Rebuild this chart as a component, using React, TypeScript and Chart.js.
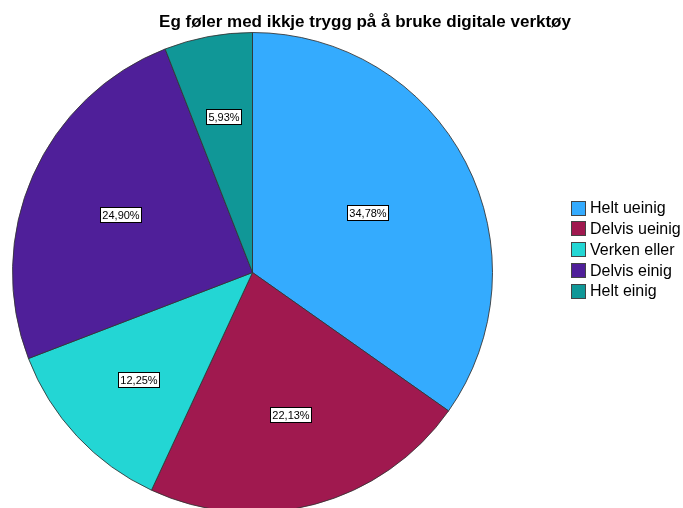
import React, { useEffect, useRef } from "react";
import { Chart, registerables } from "chart.js";

Chart.register(...registerables);

const titleText = "Eg føler med ikkje trygg på å bruke digitale verktøy";
const categories = ["Helt ueinig", "Delvis ueinig", "Verken eller", "Delvis einig", "Helt einig"];
const percentages = [34.78, 22.13, 12.25, 24.9, 5.93];
const colors = ["#34abfe", "#a0194f", "#23d6d4", "#4f1f99", "#109797"];

const fmt = (v: number) => v.toFixed(2).replace(".", ",") + "%";

const overlayPlugin = {
  id: "overlay",
  afterDatasetsDraw(chart: any) {
    const ctx = chart.ctx as CanvasRenderingContext2D;
    const meta = chart.getDatasetMeta(0);
    ctx.save();
    ctx.font = "11px 'Liberation Sans', Arial, sans-serif";
    ctx.textAlign = "center";
    ctx.textBaseline = "middle";
    meta.data.forEach((arc: any, i: number) => {
      const p = arc.getProps(["x", "y", "startAngle", "endAngle", "outerRadius"], true);
      const theta = p.endAngle - p.startAngle;
      const half = theta / 2;
      const mid = p.startAngle + half;
      const d = ((2 * p.outerRadius) / 3) * (Math.sin(half) / half);
      const cx = p.x + Math.cos(mid) * d;
      const cy = p.y + Math.sin(mid) * d;
      const txt = fmt(percentages[i]);
      const w = Math.round(ctx.measureText(txt).width) + 4;
      const h = 15;
      const bx = Math.round(cx - w / 2) + 0.5;
      const by = Math.round(cy - h / 2) + 0.5;
      ctx.fillStyle = "#ffffff";
      ctx.fillRect(bx, by, w, h);
      ctx.strokeStyle = "#000000";
      ctx.lineWidth = 1;
      ctx.strokeRect(bx, by, w, h);
      ctx.fillStyle = "#000000";
      ctx.fillText(txt, bx + w / 2, by + h / 2 + 0.5);
    });
    ctx.restore();
  },
  afterDraw(chart: any) {
    const ctx = chart.ctx as CanvasRenderingContext2D;
    ctx.save();
    ctx.font = "bold 17px 'Liberation Sans', Arial, sans-serif";
    ctx.fillStyle = "#000000";
    ctx.textAlign = "center";
    ctx.textBaseline = "alphabetic";
    ctx.fillText(titleText, 365, 27);
    ctx.font = "16px 'Liberation Sans', Arial, sans-serif";
    ctx.textAlign = "left";
    ctx.textBaseline = "middle";
    categories.forEach((c, i) => {
      const cy = 208 + i * 20.75;
      const bx = 571.5;
      const by = Math.round(cy - 7.5) + 0.5;
      ctx.fillStyle = colors[i];
      ctx.fillRect(bx, by, 14, 14);
      ctx.strokeStyle = "#444444";
      ctx.lineWidth = 1;
      ctx.strokeRect(bx, by, 14, 14);
      ctx.fillStyle = "#000000";
      ctx.fillText(c, 590, cy + 1);
    });
    ctx.restore();
  },
};

export default function App() {
  const ref = useRef<HTMLCanvasElement | null>(null);
  useEffect(() => {
    if (!ref.current) return;
    const chart = new Chart(ref.current, {
      type: "pie",
      data: {
        labels: categories,
        datasets: [
          {
            data: percentages,
            backgroundColor: colors,
            borderColor: "rgba(50,50,50,0.85)",
            borderWidth: 1,
          },
        ],
      },
      options: {
        responsive: false,
        animation: false,
        events: [],
        layout: { padding: { left: 12, top: 32, right: 190, bottom: 7 } },
        plugins: {
          legend: { display: false },
          title: { display: false },
          tooltip: { enabled: false },
        },
      },
      plugins: [overlayPlugin],
    });
    return () => chart.destroy();
  }, []);
  return (
    <div
      style={{
        position: "fixed",
        left: 0,
        top: 0,
        width: 683,
        height: 508,
        overflow: "hidden",
        background: "#ffffff",
      }}
    >
      <canvas ref={ref} width={683} height={520} style={{ display: "block", width: 683, height: 520 }} />
    </div>
  );
}
